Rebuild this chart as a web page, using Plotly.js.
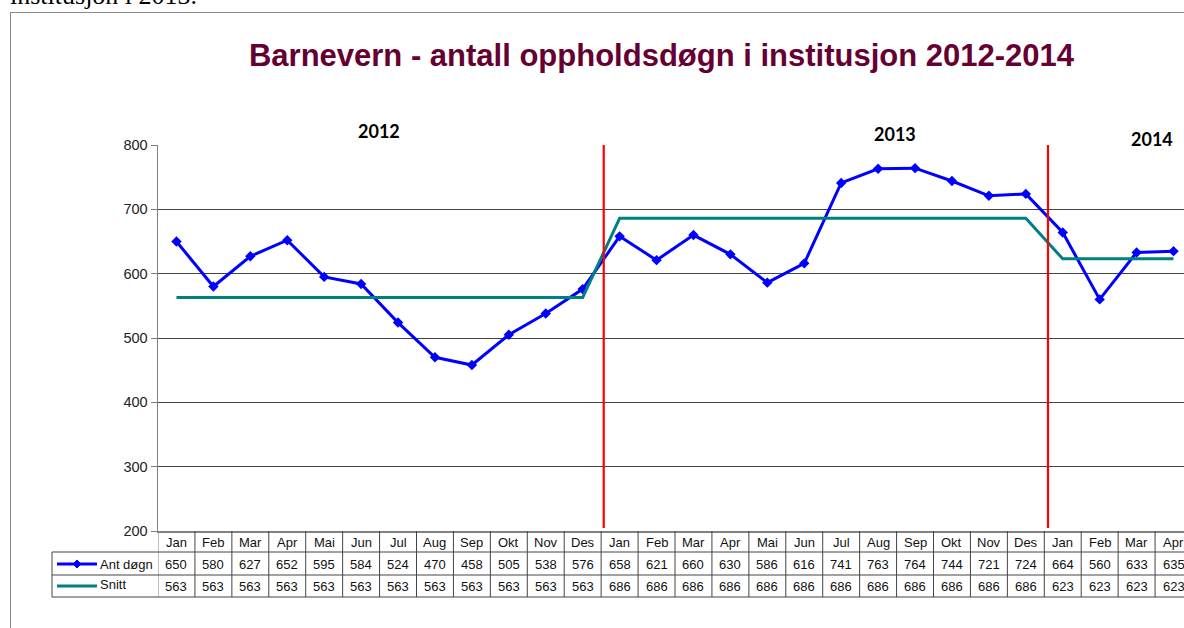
<!DOCTYPE html>
<html>
<head>
<meta charset="utf-8">
<script src="https://cdn.plot.ly/plotly-3.0.1.min.js"></script>
<style>
html,body{margin:0;padding:0;background:#fff;overflow:hidden;width:1184px;height:628px;}
#top{position:absolute;left:10px;top:-17px;font-family:"Liberation Serif","Times New Roman",serif;font-size:26px;line-height:1;color:#000;white-space:nowrap;}
#frame{position:absolute;left:10px;top:12px;width:1300px;height:700px;border:1.5px solid #8a8a8a;pointer-events:none;z-index:5;}
#chart{position:absolute;left:0;top:0;}
</style>
</head>
<body>
<div id="top">institusjon i 2013.</div>
<div id="frame"></div>
<div id="chart"></div>
<script>
// ---- data ----
const months = ['Jan','Feb','Mar','Apr','Mai','Jun','Jul','Aug','Sep','Okt','Nov','Des',
                'Jan','Feb','Mar','Apr','Mai','Jun','Jul','Aug','Sep','Okt','Nov','Des',
                'Jan','Feb','Mar','Apr'];
const antDogn = [650,580,627,652,595,584,524,470,458,505,538,576,
                 658,621,660,630,586,616,741,763,764,744,721,724,
                 664,560,633,635];
const snitt = [563,563,563,563,563,563,563,563,563,563,563,563,
               686,686,686,686,686,686,686,686,686,686,686,686,
               623,623,623,623];
const seriesNames = ['Ant døgn','Snitt'];
const yearLabels = ['2012','2013','2014'];
const yearBreaks = [11.57, 23.6];
const titleText = 'Barnevern - antall oppholdsdøgn i institusjon 2012-2014';

// ---- geometry ----
const W = 1200, H = 628;
const M = {l:158, r:8, t:145, b:97};
const plotH = H - M.t - M.b;
const plotW = W - M.l - M.r;
const py = p => (H - M.b - p) / plotH;      // pixel y -> paper y
const px = p => (p - M.l) / plotW;          // pixel x -> paper x

const idx = months.map((_, i) => i);
const BLUE = '#0000ff', TEAL = '#008080';

const traces = [
  {x: idx, y: antDogn, type:'scatter', mode:'lines+markers', name: seriesNames[0],
   line:{color:BLUE, width:3}, marker:{symbol:'diamond', size:8, color:BLUE}},
  {x: idx, y: snitt, type:'scatter', mode:'lines', name: seriesNames[1],
   line:{color:TEAL, width:3}}
];

const shapes = [];
const annotations = [];
const gridC = '#444';
const rowTop = py(531), row1 = py(552), row2 = py(575), rowBot = py(597);

// table vertical lines
for (let i = -1; i < months.length; i++) {
  shapes.push({type:'line', xref:'x', yref:'paper', x0:i+0.5, x1:i+0.5, y0:rowTop, y1:rowBot,
               line:{color: i===-1 ? '#808080' : gridC, width:1}});
}
// legend cell left border
shapes.push({type:'line', xref:'paper', yref:'paper', x0:px(52), x1:px(52), y0:row1, y1:rowBot, line:{color:gridC, width:1}});
// horizontal table lines
[row1, row2, rowBot].forEach(y => {
  shapes.push({type:'line', xref:'paper', yref:'paper', x0:px(52), x1:1, y0:y, y1:y, line:{color:gridC, width:1}});
});
// red year-break lines
yearBreaks.forEach(xb => {
  shapes.push({type:'line', xref:'x', yref:'paper', x0:xb, x1:xb, y0:py(528), y1:1, line:{color:'#ff0000', width:2.2}});
});
// legend keys
const keyY1 = py(564), keyY2 = py(586);
shapes.push({type:'line', xref:'paper', yref:'paper', x0:px(57), x1:px(97), y0:keyY1, y1:keyY1, line:{color:BLUE, width:3}});
shapes.push({type:'line', xref:'paper', yref:'paper', x0:px(57), x1:px(97), y0:keyY2, y1:keyY2, line:{color:TEAL, width:3}});
// diamond on legend key (pixel-based path)
{
  const cx = 77, cy = 564, r = 4;
  shapes.push({type:'path', xref:'paper', yref:'paper',
    path:`M ${px(cx)} ${py(cy-r)} L ${px(cx+r)} ${py(cy)} L ${px(cx)} ${py(cy+r)} L ${px(cx-r)} ${py(cy)} Z`,
    fillcolor:BLUE, line:{color:BLUE, width:1}});
}

const tfont = {family:'"Liberation Sans", Arial, sans-serif', size:13, color:'#111'};
months.forEach((m, i) => {
  annotations.push({xref:'x', yref:'paper', x:i, y:py(542), text:m, showarrow:false, font:tfont, xanchor:'center', yanchor:'middle'});
  annotations.push({xref:'x', yref:'paper', x:i, y:py(564), text:String(antDogn[i]), showarrow:false, font:tfont, xanchor:'center', yanchor:'middle'});
  annotations.push({xref:'x', yref:'paper', x:i, y:py(586), text:String(snitt[i]), showarrow:false, font:tfont, xanchor:'center', yanchor:'middle'});
});
annotations.push({xref:'paper', yref:'paper', x:px(98), y:py(564), text:seriesNames[0], showarrow:false, font:tfont, xanchor:'left', yanchor:'middle'});
annotations.push({xref:'paper', yref:'paper', x:px(98), y:py(584), text:seriesNames[1], showarrow:false, font:tfont, xanchor:'left', yanchor:'middle'});

// year labels
const yfont = {family:'Lato, "Liberation Sans", sans-serif', size:18, color:'#000', weight:'bold'};
const yearPos = [[379,131],[895,134],[1152,139]];
yearLabels.forEach((t, k) => {
  annotations.push({xref:'paper', yref:'paper', x:px(yearPos[k][0]), y:py(yearPos[k][1]), text:'<b>'+t+'</b>',
    showarrow:false, font:yfont, xanchor:'center', yanchor:'middle'});
});

const layout = {
  width: W, height: H,
  margin: M,
  paper_bgcolor:'rgba(0,0,0,0)', plot_bgcolor:'rgba(0,0,0,0)',
  showlegend:false,
  title:{text:'<b>'+titleText+'</b>', xref:'container', yref:'container', x:661.5/W, y:1-55/H,
         xanchor:'center', yanchor:'middle',
         font:{family:'"Liberation Sans", Arial, sans-serif', size:31, color:'#660033'}},
  xaxis:{range:[-0.5, months.length-0.5], showticklabels:false, showgrid:false, zeroline:false,
         showline:true, linecolor:'#808080', linewidth:1.5, ticks:'', fixedrange:true},
  yaxis:{range:[200,800], dtick:100, tick0:200, showgrid:true, gridcolor:gridC, gridwidth:1,
         zeroline:false, showline:true, linecolor:'#808080', linewidth:1.5,
         ticks:'outside', ticklen:6, tickcolor:'#808080', tickwidth:1,
         tickfont:{family:'"Liberation Sans", Arial, sans-serif', size:14.5, color:'#222'}, fixedrange:true},
  shapes, annotations
};

Plotly.newPlot('chart', traces, layout, {staticPlot:true});
</script>
</body>
</html>
